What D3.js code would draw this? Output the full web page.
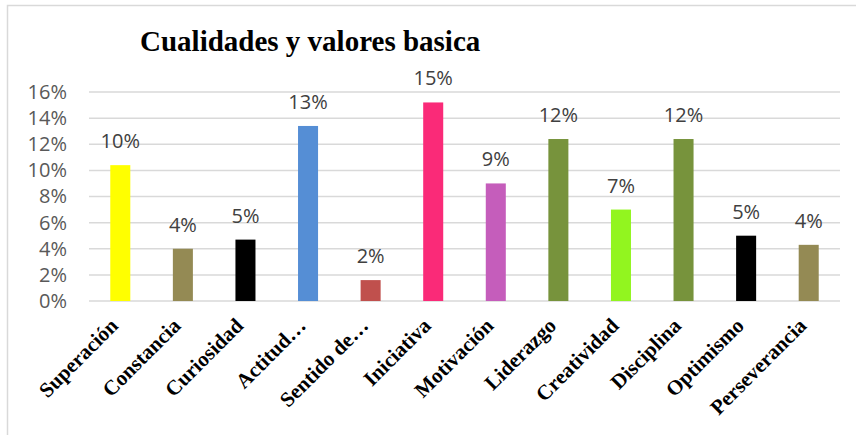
<!DOCTYPE html>
<html>
<head>
<meta charset="utf-8">
<script src="https://cdn.jsdelivr.net/npm/d3@7"></script>
<style>
  body { margin: 0; background: #fff; }
  svg { display: block; }
</style>
</head>
<body>
<script>
const width = 856;
const height = 435;
const margin = {top: 92, left: 89, bottom: 134, right: 15};

const categories = ['Superación', 'Constancia', 'Curiosidad', 'Actitud…', 'Sentido de…', 'Iniciativa',
  'Motivación', 'Liderazgo', 'Creatividad', 'Disciplina', 'Optimismo', 'Perseverancia'];
const values = [0.104, 0.040, 0.047, 0.134, 0.016, 0.152, 0.090, 0.124, 0.070, 0.124, 0.050, 0.043];
const colors = ['#ffff00', '#948a54', '#000000', '#558ed5', '#c0504d', '#fa2a78',
  '#c55dbb', '#77933c', '#92f51f', '#77933c', '#000000', '#948a54'];
const yTicks = [0, 0.02, 0.04, 0.06, 0.08, 0.10, 0.12, 0.14, 0.16];

const x = d3.scaleBand()
  .domain(categories)
  .range([margin.left, 840])
  .paddingInner(0.68)
  .paddingOuter(0.34);

const y = d3.scaleLinear()
  .domain([0, 0.16])
  .range([301, margin.top]);

const svg = d3.select('body').append('svg')
  .attr('width', width).attr('height', height);

// chart border (cut off at the right and bottom)
svg.append('path')
  .attr('d', 'M7.5,436 V5.5 H857')
  .attr('fill', 'none')
  .attr('stroke', '#d9d9d9')
  .attr('stroke-width', 1.5);

svg.append('text')
  .attr('x', 140).attr('y', 51)
  .attr('font-family', '"Liberation Serif", "Times New Roman", serif')
  .attr('font-weight', 'bold')
  .attr('font-size', 29)
  .attr('fill', '#000')
  .text('Cualidades y valores basica');

// grid
svg.append('g')
  .selectAll('line').data(yTicks).enter().append('line')
  .attr('x1', margin.left).attr('x2', 840)
  .attr('y1', d => y(d)).attr('y2', d => y(d))
  .attr('stroke', '#d9d9d9')
  .attr('stroke-width', 1.5);

const yAxis = g => g
  .attr('transform', `translate(${margin.left}, 0)`)
  .call(d3.axisLeft(y).tickValues(yTicks).tickFormat(d3.format('.0%')).tickSize(0).tickPadding(22))
  .call(g => g.select('.domain').remove())
  .call(g => g.selectAll('text')
    .attr('font-family', '"Open Sans", sans-serif')
    .attr('font-size', 20)
    .attr('fill', '#595959'));
svg.append('g').call(yAxis);

svg.append('g')
  .selectAll('rect').data(values).enter().append('rect')
  .attr('x', (d, i) => x(categories[i]))
  .attr('y', d => y(d))
  .attr('width', x.bandwidth())
  .attr('height', d => y(0) - y(d))
  .attr('fill', (d, i) => colors[i]);

// data labels
svg.append('g')
  .selectAll('text').data(values).enter().append('text')
  .attr('x', (d, i) => x(categories[i]) + x.bandwidth() / 2)
  .attr('y', d => y(d) - 17)
  .attr('text-anchor', 'middle')
  .attr('font-family', '"Open Sans", sans-serif')
  .attr('font-size', 20)
  .attr('fill', '#404040')
  .text(d => d3.format('.0%')(d));

// category labels
svg.append('g')
  .selectAll('text').data(categories).enter().append('text')
  .attr('transform', d => `translate(${x(d) + x.bandwidth() / 2 - 1}, 327) rotate(-45)`)
  .attr('text-anchor', 'end')
  .attr('font-family', '"Liberation Serif", "Times New Roman", serif')
  .attr('font-weight', 'bold')
  .attr('font-size', 21)
  .attr('fill', '#000')
  .text(d => d);
</script>
</body>
</html>
